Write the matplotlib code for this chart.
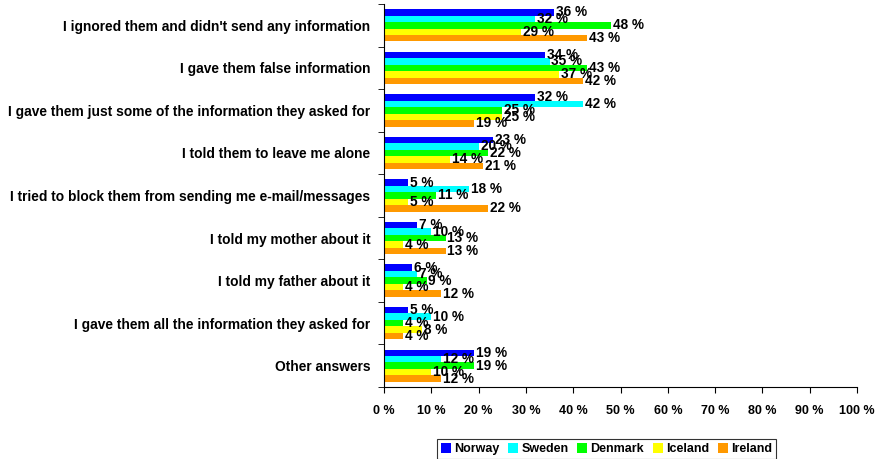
import numpy as np
import matplotlib.pyplot as plt

plt.rcParams['font.family'] = ['Liberation Sans Narrow', 'Liberation Sans', 'DejaVu Sans']
plt.rcParams['font.weight'] = 'bold'

categories = [
    "I ignored them and didn't send any information",
    "I gave them false information",
    "I gave them just some of the information they asked for",
    "I told them to leave me alone",
    "I tried to block them from sending me e-mail/messages",
    "I told my mother about it",
    "I told my father about it",
    "I gave them all the information they asked for",
    "Other answers",
]
countries = ["Norway", "Sweden", "Denmark", "Iceland", "Ireland"]
norway = [36, 34, 32, 23, 5, 7, 6, 5, 19]
sweden = [32, 35, 42, 20, 18, 10, 7, 10, 12]
denmark = [48, 43, 25, 22, 11, 13, 9, 4, 19]
iceland = [29, 37, 25, 14, 5, 4, 4, 8, 10]
ireland = [43, 42, 19, 21, 22, 13, 12, 4, 12]
series = [norway, sweden, denmark, iceland, ireland]
colors = ["#0000ff", "#00ffff", "#00ff00", "#ffff00", "#ff9900"]

fig = plt.figure(figsize=(8.83, 4.59), dpi=100)
ax = fig.add_axes([0.4349, 0.1569, 0.5357, 0.8344])

y = np.arange(len(categories))
h = 0.152
for j, vals in enumerate(series):
    pos = y + (j - 2) * h
    ax.barh(pos, vals, height=h, color=colors[j], label=countries[j])
    for p, v in zip(pos, vals):
        ax.text(v + 0.4, p, "%d %%" % v, va='center', ha='left',
                fontsize=9.8, fontweight='bold')

ax.set_xlim(0, 100)
ax.set_ylim(len(categories) - 0.5, -0.5)
ax.set_xticks(np.arange(0, 101, 10))
ax.set_xticklabels(["%d %%" % t for t in range(0, 101, 10)], fontsize=9, fontweight='bold')
ax.set_yticks(y)
ax.set_yticklabels(categories, fontsize=9.9, fontweight='bold')
ax.set_yticks(np.arange(len(categories) + 1) - 0.5, minor=True)
ax.tick_params(axis='y', which='major', length=0, pad=10)
ax.tick_params(axis='y', which='minor', length=4, direction='out')
ax.tick_params(axis='x', length=4, direction='out', pad=9)
ax.spines['top'].set_visible(False)
ax.spines['right'].set_visible(False)

leg = fig.legend(loc='upper center', bbox_to_anchor=(0.687, 0.043), ncol=5,
                 fontsize=9, frameon=True, fancybox=False, edgecolor='black',
                 handlelength=0.8, handleheight=0.8, handletextpad=0.25,
                 columnspacing=0.7, borderpad=0.3, borderaxespad=0)
leg.get_frame().set_linewidth(0.8)
for t in leg.get_texts():
    t.set_fontweight('bold')

fig.savefig("out.png", dpi=100)
